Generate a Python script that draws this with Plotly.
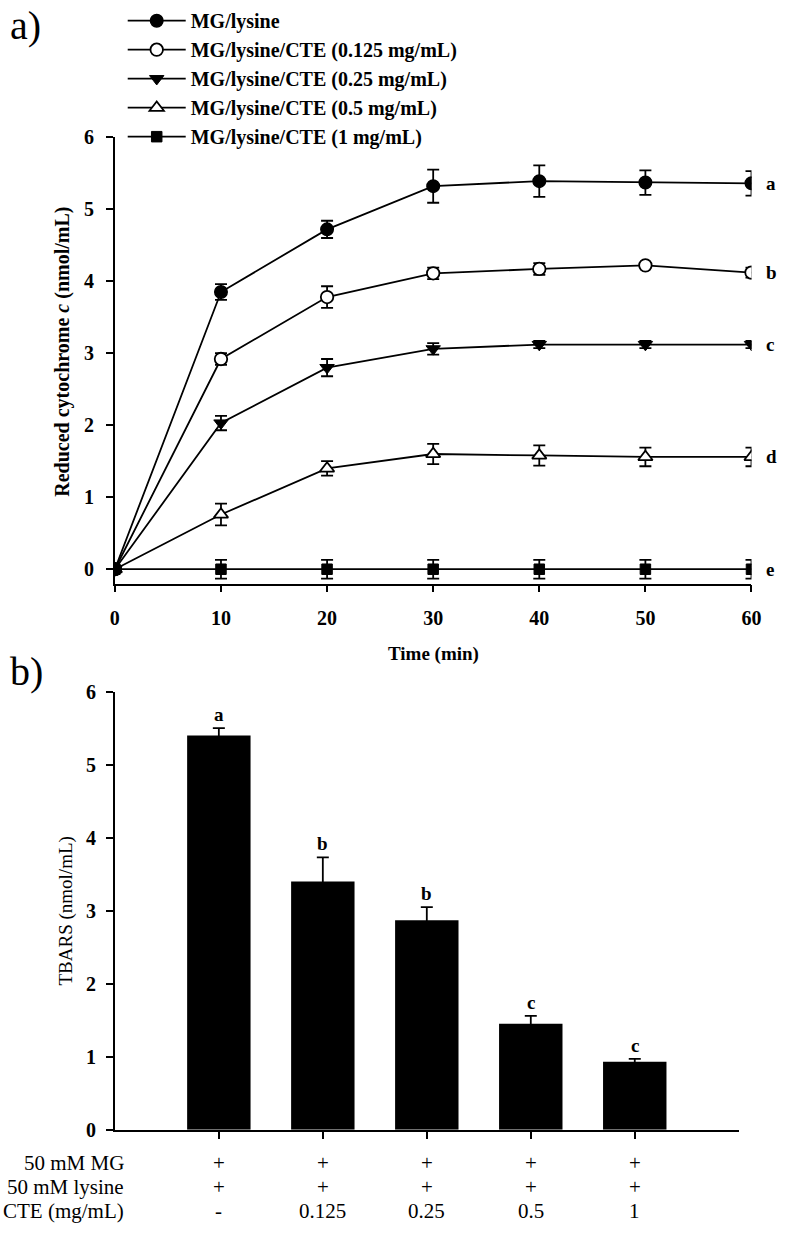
import plotly.graph_objects as go

# ---------------- data: panel a ----------------
time_min = [0, 10, 20, 30, 40, 50, 60]
series_names = [
    "MG/lysine",
    "MG/lysine/CTE (0.125 mg/mL)",
    "MG/lysine/CTE (0.25 mg/mL)",
    "MG/lysine/CTE (0.5 mg/mL)",
    "MG/lysine/CTE (1 mg/mL)",
]
mg_lysine = [0, 3.85, 4.72, 5.32, 5.39, 5.37, 5.36]
mg_lysine_err = [0, 0.11, 0.12, 0.23, 0.22, 0.17, 0.17]
cte_0125 = [0, 2.92, 3.78, 4.11, 4.17, 4.22, 4.12]
cte_0125_err = [0, 0.08, 0.15, 0.08, 0.08, 0.02, 0.07]
cte_025 = [0, 2.03, 2.80, 3.06, 3.12, 3.12, 3.12]
cte_025_err = [0, 0.10, 0.12, 0.08, 0.05, 0.05, 0.05]
cte_05 = [0, 0.76, 1.40, 1.60, 1.58, 1.56, 1.56]
cte_05_err = [0, 0.15, 0.10, 0.14, 0.14, 0.13, 0.13]
cte_1 = [0, 0, 0, 0, 0, 0, 0]
cte_1_err = [0, 0.13, 0.13, 0.13, 0.13, 0.13, 0.13]
letters_a = ["a", "b", "c", "d", "e"]

# ---------------- data: panel b ----------------
groups = [1, 2, 3, 4, 5]
tbars = [5.40, 3.40, 2.87, 1.45, 0.93]
tbars_err = [0.10, 0.33, 0.18, 0.11, 0.04]
letters_b = ["a", "b", "b", "c", "c"]
row_labels = ["50 mM MG", "50 mM lysine", "CTE (mg/mL)"]
row_mg = ["+", "+", "+", "+", "+"]
row_lys = ["+", "+", "+", "+", "+"]
row_cte = ["-", "0.125", "0.25", "0.5", "1"]

W, H = 787, 1236
FONT = "Liberation Serif, Times New Roman, serif"

def px_x(p):
    return p / W

def px_y(p):
    return 1 - p / H

fig = go.Figure()

series = [
    (mg_lysine, mg_lysine_err, dict(symbol="circle", color="black", size=12.5, line=dict(color="black", width=1.5))),
    (cte_0125, cte_0125_err, dict(symbol="circle", color="white", size=12.5, line=dict(color="black", width=1.8))),
    (cte_025, cte_025_err, dict(symbol="triangle-down", color="black", size=12.5, line=dict(color="black", width=1))),
    (cte_05, cte_05_err, dict(symbol="triangle-up", color="white", size=12.5, line=dict(color="black", width=1.8))),
    (cte_1, cte_1_err, dict(symbol="square", color="black", size=10.5, line=dict(color="black", width=1))),
]
for name, (vals, errs, mk) in zip(series_names, series):
    fig.add_trace(go.Scatter(
        x=time_min, y=vals, name=name, mode="lines+markers",
        line=dict(color="black", width=1.8), marker=mk,
        error_y=dict(type="data", array=errs, visible=True, color="black", thickness=1.8, width=6),
        xaxis="x", yaxis="y", legendgroup=name,
    ))

fig.add_trace(go.Bar(
    x=groups, y=tbars, width=0.61, marker=dict(color="black", line=dict(width=0)),
    error_y=dict(type="data", array=tbars_err, visible=True, color="black", thickness=1.8, width=6),
    xaxis="x2", yaxis="y2", showlegend=False,
))

annotations = []
# letters right of panel a
for vals, letter in zip([mg_lysine, cte_0125, cte_025, cte_05, cte_1], letters_a):
    annotations.append(dict(x=time_min[-1], y=vals[-1], xref="x", yref="y", text=letter,
                            showarrow=False, xanchor="left", xshift=13,
                            font=dict(family=FONT, size=19, color="black", weight="bold")))
# letters above bars
for g, v, e, letter in zip(groups, tbars, tbars_err, letters_b):
    annotations.append(dict(x=g, y=v + e, xref="x2", yref="y2", text=letter, showarrow=False,
                            yanchor="bottom", yshift=1,
                            font=dict(family=FONT, size=19, color="black", weight="bold")))
# table under panel b
row_y = [1173, 1197, 1222]
for lab, yy in zip(row_labels, row_y):
    annotations.append(dict(x=px_x(123), y=px_y(yy), xref="paper", yref="paper", text=lab,
                            showarrow=False, xanchor="right", yanchor="middle",
                            font=dict(family=FONT, size=21, color="black")))
for row, yy in zip([row_mg, row_lys, row_cte], row_y):
    for g, t in zip(groups, row):
        annotations.append(dict(x=g, y=px_y(yy), xref="x2", yref="paper", text=t,
                                showarrow=False, xanchor="center", yanchor="middle",
                                font=dict(family=FONT, size=21, color="black")))
# panel labels
annotations.append(dict(x=px_x(3), y=px_y(15), xref="paper", yref="paper", text="a)", showarrow=False,
                        xanchor="left", yanchor="middle", font=dict(family=FONT, size=40, color="black")))
annotations.append(dict(x=px_x(3), y=px_y(672), xref="paper", yref="paper", text="b)", showarrow=False,
                        xanchor="left", yanchor="middle", font=dict(family=FONT, size=40, color="black")))
# axis titles
annotations.append(dict(x=px_x(59), y=px_y(347), xref="paper", yref="paper",
                        text="Reduced cytochrome <i>c</i> (nmol/mL)", textangle=-90, showarrow=False,
                        xanchor="center", yanchor="middle",
                        font=dict(family=FONT, size=20, color="black", weight="bold")))
annotations.append(dict(x=px_x(437), y=px_y(655), xref="paper", yref="paper",
                        text="Time (min)", showarrow=False, xanchor="center", yanchor="middle",
                        font=dict(family=FONT, size=19, color="black", weight="bold")))
annotations.append(dict(x=px_x(62), y=px_y(916), xref="paper", yref="paper",
                        text="TBARS (nmol/mL)", textangle=-90, showarrow=False,
                        xanchor="center", yanchor="middle",
                        font=dict(family=FONT, size=19, color="black")))

axis_common = dict(showline=True, linecolor="black", linewidth=1.6, ticks="outside",
                   ticklen=7, tickwidth=1.6, tickcolor="black", showgrid=False, zeroline=False,
                   tickfont=dict(family=FONT, size=20, color="black", weight="bold"))

fig.update_layout(
    width=W, height=H,
    margin=dict(l=0, r=0, t=0, b=0),
    paper_bgcolor="white", plot_bgcolor="white",
    font=dict(family=FONT, color="black"),
    xaxis=dict(domain=[px_x(112), px_x(761)], range=[0, 60], tickvals=[0, 10, 20, 30, 40, 50, 60],
               anchor="y", ticklabelstandoff=9, **axis_common),
    yaxis=dict(domain=[px_y(583), px_y(128.5)], range=[-0.2, 6], tickvals=[0, 1, 2, 3, 4, 5, 6],
               anchor="x", ticklabelstandoff=8, **axis_common),
    xaxis2=dict(domain=[px_x(112), px_x(748)], range=[0, 6], tickvals=groups, showticklabels=False,
                anchor="y2", **axis_common),
    yaxis2=dict(domain=[px_y(1139), px_y(693)], range=[0, 6], tickvals=[0, 1, 2, 3, 4, 5, 6],
                anchor="x2", ticklabelstandoff=6, **axis_common),
    showlegend=True,
    legend=dict(x=px_x(120), y=px_y(-10), xanchor="left", yanchor="top",
                font=dict(family=FONT, size=20, color="black", weight="bold"),
                bgcolor="rgba(0,0,0,0)", traceorder="grouped", tracegroupgap=0, itemwidth=58),
    annotations=annotations,
)

fig.write_html("out.html", config={"displayModeBar": False},
               post_script="document.body.style.margin='0px';")
